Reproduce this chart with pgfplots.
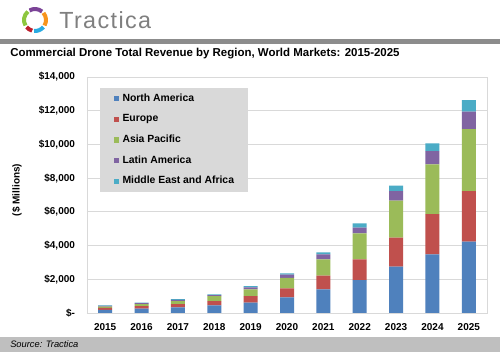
\documentclass[border=0pt]{standalone}
\usepackage{pgfplots}
\pgfplotsset{compat=1.18}
\usepackage{pgfplotstable}
\usepackage{fontspec}
\setmainfont{Liberation Sans}
\definecolor{cNA}{HTML}{4F81BD}
\definecolor{cEU}{HTML}{C0504D}
\definecolor{cAP}{HTML}{9BBB59}
\definecolor{cLA}{HTML}{8064A2}
\definecolor{cME}{HTML}{4BACC6}
\definecolor{gridc}{HTML}{D9D9D9}
\definecolor{legbg}{HTML}{D9D9D9}
\definecolor{topbar}{HTML}{8C8C8C}
\definecolor{botbar}{HTML}{BFBFBF}
\definecolor{logogray}{HTML}{7F7F7F}
\pgfplotstableread{
x NA EU AP LA ME
0 190 110 80 45 25
1 260 150 120 60 30
2 330 200 170 80 40
3 450 260 290 60 40
4 620 380 400 120 80
5 930 530 630 180 80
6 1405 805 975 295 120
7 1955 1230 1540 335 260
8 2745 1720 2195 575 315
9 3480 2390 2950 780 460
10 4230 3005 3675 1030 690
}\revtable
\begin{document}
\begin{tikzpicture}
\begin{scope}[x=0.75pt,y=-0.75pt]
\path[use as bounding box, fill=white] (0,0) rectangle (500,352);
\fill[topbar] (0,39.5) rectangle (500,44.5);
\fill[botbar] (0,337) rectangle (500,352);
\node[anchor=base west, inner sep=0pt, font=\fontsize{7}{8}\selectfont\itshape] at (10,347.5) {Source: Tractica};
\node[anchor=base west, inner sep=0pt, font=\bfseries\fontsize{8.6}{10}\selectfont] at (10,56.7) {Commercial Drone Total Revenue by Region, World Markets: 2015-2025};
\node[anchor=base west, inner sep=0pt, text=logogray, font=\fontsize{17.5}{20}\selectfont\addfontfeatures{LetterSpace=6}] at (59,28.3) {Tractica};
% logo ring
\draw[line width=3pt, color={rgb,255:red,141;green,198;blue,63}] (35,20) ++(150:11) arc[start angle=150, end angle=230, radius=11];
\draw[line width=3pt, color={rgb,255:red,123;green,67;blue,151}] (35,20) ++(240:11) arc[start angle=240, end angle=310, radius=11];
\draw[line width=3pt, color={rgb,255:red,247;green,148;blue,29}] (35,20) ++(320:11) arc[start angle=320, end angle=390, radius=11];
\draw[line width=3pt, color={rgb,255:red,41;green,171;blue,226}] (35,20) ++(40:11) arc[start angle=40, end angle=95, radius=11];
\draw[line width=3pt, color={rgb,255:red,190;green,30;blue,45}] (35,20) ++(105:11) arc[start angle=105, end angle=140, radius=11];
\node[rotate=90, inner sep=0pt, font=\bfseries\fontsize{7.5}{9}\selectfont] at (17,190) {(\$ Millions)};
\end{scope}
\begin{axis}[
  at={(65.25pt,-234.75pt)}, anchor=south west,
  scale only axis, width=300pt, height=177pt,
  ybar stacked, bar width=10.5pt,
  xmin=-0.5, xmax=10.5, ymin=0, ymax=14000,
  xtick={0,...,10},
  xticklabels={2015,2016,2017,2018,2019,2020,2021,2022,2023,2024,2025},
  ytick={0,2000,4000,6000,8000,10000,12000,14000},
  yticklabels={{\$-},{\$2,000},{\$4,000},{\$6,000},{\$8,000},{\$10,000},{\$12,000},{\$14,000}},
  major tick length=0pt,
  ymajorgrids, grid style={draw=gridc, line width=0.6pt},
  axis line style={draw=gridc, line width=0.6pt},
  ticklabel style={font=\bfseries\fontsize{7.5}{9}\selectfont},
  yticklabel style={xshift=-5.5pt},
  xticklabel style={yshift=-4.5pt},
  scaled y ticks=false,
  legend cell align=left,
  legend style={at={(0.0325,0.9547)}, anchor=north west, fill=legbg, draw=none,
    font=\bfseries\fontsize{7.8}{9}\selectfont, inner xsep=10.5pt, inner ysep=4.5pt,
    row sep=7.9pt,
    nodes={inner sep=0pt, text height=5.6pt, text depth=1.9pt},
    /tikz/every odd column/.append style={column sep=2.4pt}},
]
\addplot[fill=cNA, draw=none, legend image code/.code={\fill[cNA] (0pt,-1.9pt) rectangle (3.8pt,1.9pt);}] table[x=x,y=NA] {\revtable};
\addplot[fill=cEU, draw=none, legend image code/.code={\fill[cEU] (0pt,-1.9pt) rectangle (3.8pt,1.9pt);}] table[x=x,y=EU] {\revtable};
\addplot[fill=cAP, draw=none, legend image code/.code={\fill[cAP] (0pt,-1.9pt) rectangle (3.8pt,1.9pt);}] table[x=x,y=AP] {\revtable};
\addplot[fill=cLA, draw=none, legend image code/.code={\fill[cLA] (0pt,-1.9pt) rectangle (3.8pt,1.9pt);}] table[x=x,y=LA] {\revtable};
\addplot[fill=cME, draw=none, legend image code/.code={\fill[cME] (0pt,-1.9pt) rectangle (3.8pt,1.9pt);}] table[x=x,y=ME] {\revtable};
\legend{North America, Europe, Asia Pacific, Latin America, Middle East and Africa}
\end{axis}
\end{tikzpicture}
\end{document}
